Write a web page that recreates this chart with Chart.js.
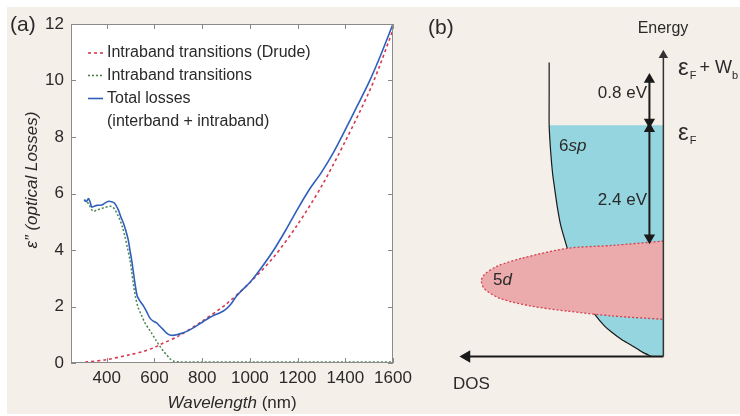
<!DOCTYPE html>
<html>
<head>
<meta charset="utf-8">
<script src="https://cdn.jsdelivr.net/npm/chart.js@4.4.0/dist/chart.umd.min.js"></script>
<style>
html, body { margin: 0; padding: 0; background: #fff; }
#wrap { position: relative; width: 740px; height: 416px; overflow: hidden; }
#bg { position: absolute; left: 7px; top: 7px; width: 733px; height: 407px; background: #f5efea; }
#lossChart { position: absolute; left: 0; top: 0; width: 430px; height: 416px; }
#bandChart { position: absolute; left: 420px; top: 0; width: 320px; height: 416px; }
</style>
</head>
<body>
<div id="wrap">
  <div id="bg"></div>
  <canvas id="lossChart" width="430" height="416"></canvas>
  <canvas id="bandChart" width="320" height="416"></canvas>
</div>
<script>
// ---- panel (a): imaginary permittivity vs wavelength ----
const wavelengthTicks = [400, 600, 800, 1000, 1200, 1400, 1600];
const epsTicks = [0, 2, 4, 6, 8, 10, 12];

const totalNm = [305, 315, 323, 330, 337, 347, 358, 379, 392, 405, 420, 432, 448, 460, 470, 480, 490, 498, 504, 511,
  518, 528, 540, 553, 567, 581, 595, 609, 623, 637, 651, 665, 680, 693, 710, 735, 770, 805, 847, 870,
  896, 920, 945, 975, 1000, 1042, 1100, 1150, 1200, 1250, 1300, 1350, 1400, 1450, 1500, 1546, 1600];
const totalEps = [5.76, 5.72, 5.82, 5.7, 5.52, 5.55, 5.58, 5.59, 5.66, 5.72, 5.71, 5.66, 5.43, 5.15, 4.95, 4.68, 4.36, 3.95, 3.66, 3.25,
  2.83, 2.36, 2.18, 2.03, 1.82, 1.59, 1.48, 1.42, 1.3, 1.18, 1.06, 0.99, 0.98, 1.0, 1.04, 1.12, 1.28, 1.47, 1.68, 1.76,
  1.88, 2.08, 2.38, 2.64, 2.85, 3.3, 4.0, 4.7, 5.45, 6.15, 6.75, 7.45, 8.26, 9.1, 9.95, 10.85, 12.0];

const drudeNm = [310, 400, 500, 553, 600, 623, 700, 800, 900, 1000, 1100, 1200, 1300, 1400, 1500, 1546, 1600];
const drudeEps = [0.03, 0.12, 0.3, 0.41, 0.55, 0.65, 0.95, 1.48, 2.08, 2.85, 3.75, 4.9, 6.25, 7.85, 9.6, 10.56, 11.8];

const interNm = [305, 315, 325, 335, 344, 358, 372, 390, 414, 425, 434, 445, 455, 466, 476, 486, 497, 504, 511, 520,
  532, 545, 560, 575, 588, 605, 623, 637, 651, 665, 679, 700, 750, 800, 1000, 1200, 1400, 1600];
const interEps = [5.78, 5.72, 5.62, 5.45, 5.37, 5.42, 5.45, 5.5, 5.55, 5.52, 5.43, 5.25, 5.07, 4.8, 4.48, 4.1, 3.66, 3.25, 2.83, 2.35,
  1.95, 1.7, 1.42, 1.22, 1.06, 0.82, 0.59, 0.42, 0.29, 0.15, 0.07, 0.04, 0.035, 0.035, 0.035, 0.035, 0.035, 0.035];

const legendLabels = ['Intraband transitions (Drude)', 'Intraband transitions', 'Total losses', '(interband + intraband)'];

// ---- panel (b): band schematic (DOS arb. units, energy relative to E_F) ----
const spDos = [11.96, 11.96, 11.96, 11.8, 11.6, 11.4, 11.1, 10.73, 10.06, 9.35, 8.73, 7.9, 7.06, 6.2, 5.4, 4.3, 3.4, 2.2, 1.23];
const spEnergy = [1.3, 0.6, 0, -0.55, -1.0, -1.29, -1.7, -2.09, -2.55, -3.0, -3.35, -3.7, -3.95, -4.15, -4.29, -4.45, -4.55, -4.7, -4.79];
const dBandDos = [0, 5.4, 10.06, 14.73, 17.4, 18.73, 19.06, 18.73, 17.06, 13.73, 10.06, 5.4, 0];
const dBandEnergy = [-2.4, -2.49, -2.55, -2.75, -2.92, -3.09, -3.22, -3.39, -3.59, -3.75, -3.85, -3.95, -4.02];
const bandBottom = -4.79;
const energyAxisTop = 1.45;
const dosAxisEnd = 20.6;
const arrowDos = 1.46;
const workGapE = [0.95, 0.07];   // 0.8 eV arrow
const fermiDepthE = [-0.07, -2.33]; // 2.4 eV arrow

const fontFamily = '"Liberation Sans", Arial, Helvetica, sans-serif';
const textColor = '#2a2a2a';

function pairs(xs, ys) {
  return xs.map((x, i) => ({ x: x, y: ys[i] }));
}

const lossDecor = {
  id: 'lossDecor',
  beforeDraw(chart) {
    const { ctx, chartArea: a } = chart;
    ctx.save();
    ctx.fillStyle = '#fff';
    ctx.fillRect(a.left, a.top, a.right - a.left, a.bottom - a.top);
    ctx.restore();
  },
  afterDraw(chart) {
    const { ctx, chartArea: a, scales } = chart;
    ctx.save();
    // frame
    ctx.strokeStyle = '#8a8a8a';
    ctx.lineWidth = 1;
    ctx.strokeRect(a.left + 0.5, a.top + 0.5, a.right - a.left - 1, a.bottom - a.top - 1);
    // inward ticks on all sides
    ctx.beginPath();
    wavelengthTicks.forEach(v => {
      const px = Math.round(scales.x.getPixelForValue(v)) + 0.5;
      ctx.moveTo(px, a.bottom); ctx.lineTo(px, a.bottom - 5);
      ctx.moveTo(px, a.top); ctx.lineTo(px, a.top + 5);
    });
    epsTicks.forEach(v => {
      const py = Math.round(scales.y.getPixelForValue(v)) + 0.5;
      ctx.moveTo(a.left, py); ctx.lineTo(a.left + 5, py);
      ctx.moveTo(a.right, py); ctx.lineTo(a.right - 5, py);
    });
    ctx.stroke();

    // legend inside the plot
    const order = [1, 2, 0];
    ctx.font = '16px ' + fontFamily;
    ctx.textBaseline = 'middle';
    ctx.fillStyle = textColor;
    const rows = [53, 75.5, 98.5, 121.5];
    order.forEach((di, r) => {
      const ds = chart.data.datasets[di];
      ctx.beginPath();
      ctx.strokeStyle = ds.borderColor;
      ctx.lineWidth = 1.6;
      ctx.setLineDash(ds.borderDash || []);
      ctx.moveTo(88, rows[r]); ctx.lineTo(103, rows[r]);
      ctx.stroke();
      ctx.setLineDash([]);
      ctx.fillText(legendLabels[r], 107, rows[r]);
    });
    ctx.fillText(legendLabels[3], 107, rows[3]);

    // panel label
    ctx.font = '21px ' + fontFamily;
    ctx.fillText('(a)', 10, 25);

    // x title: italic word + upright unit
    ctx.font = 'italic 17px ' + fontFamily;
    const w1 = ctx.measureText('Wavelength').width;
    ctx.font = '17px ' + fontFamily;
    const w2 = ctx.measureText(' (nm)').width;
    const x0 = 232 - (w1 + w2) / 2;
    ctx.textAlign = 'left';
    ctx.font = 'italic 17px ' + fontFamily;
    ctx.fillText('Wavelength', x0, 403);
    ctx.font = '17px ' + fontFamily;
    ctx.fillText(' (nm)', x0 + w1, 403);

    // y title
    ctx.translate(32, 180);
    ctx.rotate(-Math.PI / 2);
    ctx.textAlign = 'center';
    ctx.font = 'italic 17px ' + fontFamily;
    ctx.fillText('\u03b5\u201d (optical Losses)', 0, 0);
    ctx.restore();
  }
};

new Chart(document.getElementById('lossChart'), {
  type: 'line',
  data: {
    datasets: [
      { label: 'Total losses', data: pairs(totalNm, totalEps), borderColor: '#2f5fbd', borderWidth: 1.6, pointRadius: 0, tension: 0.3 },
      { label: 'Intraband transitions (Drude)', data: pairs(drudeNm, drudeEps), borderColor: '#d43a50', borderWidth: 1.6, borderDash: [3, 3], pointRadius: 0, tension: 0.3 },
      { label: 'Intraband transitions', data: pairs(interNm, interEps), borderColor: '#4a8550', borderWidth: 1.5, borderDash: [2, 2], pointRadius: 0, tension: 0.3 }
    ]
  },
  options: {
    responsive: false,
    animation: false,
    layout: { padding: { top: 24, right: 37, bottom: 0, left: 0 } },
    plugins: { legend: { display: false }, tooltip: { enabled: false } },
    scales: {
      x: {
        type: 'linear', min: 250, max: 1600,
        afterBuildTicks: s => { s.ticks = wavelengthTicks.map(v => ({ value: v })); },
        afterFit: s => { s.height = 53; },
        grid: { display: false, drawTicks: false },
        border: { display: false },
        ticks: { color: textColor, font: { family: fontFamily, size: 17 }, padding: 5, maxRotation: 0, autoSkip: false,
          callback: v => String(v) }
      },
      y: {
        min: 0, max: 12,
        afterBuildTicks: s => { s.ticks = epsTicks.map(v => ({ value: v })); },
        afterFit: s => { s.width = 71; },
        grid: { display: false, drawTicks: false },
        border: { display: false },
        ticks: { color: textColor, font: { family: fontFamily, size: 17 }, padding: 7, callback: v => String(v) }
      }
    }
  },
  plugins: [lossDecor]
});

// ---- panel (b) ----
function drawRuns(ctx, runs, x, y) {
  runs.forEach(r => {
    ctx.font = r[1];
    ctx.fillText(r[0], x, y + (r[2] || 0));
    x += ctx.measureText(r[0]).width + (r[3] || 0);
  });
}

const bandText = {
  id: 'bandText',
  afterDraw(chart) {
    const ctx = chart.ctx;
    const ox = -420;
    const f = s => s + 'px ' + fontFamily;
    const fi = s => 'italic ' + s + 'px ' + fontFamily;
    ctx.save();
    ctx.fillStyle = textColor;
    ctx.textBaseline = 'middle';
    ctx.textAlign = 'left';
    ctx.font = f(21);
    ctx.fillText('(b)', 428 + ox, 28);
    ctx.font = f(16);
    ctx.textAlign = 'center';
    ctx.fillText('Energy', 663 + ox, 29);
    ctx.textAlign = 'left';
    drawRuns(ctx, [['\u03b5', f(24), 0, 1], ['F', f(11), 8, 3], ['+ W', f(18)], ['b', f(11), 8]], 678 + ox, 68);
    drawRuns(ctx, [['\u03b5', f(24), 0, 1], ['F', f(11), 8]], 678 + ox, 133);
    ctx.textAlign = 'right';
    ctx.font = f(17);
    ctx.fillText('0.8 eV', 647 + ox, 93);
    ctx.fillText('2.4 eV', 647 + ox, 200);
    ctx.textAlign = 'left';
    drawRuns(ctx, [['6', f(17)], ['sp', fi(17)]], 559 + ox, 146);
    drawRuns(ctx, [['5', f(17)], ['d', fi(17)]], 493 + ox, 280);
    ctx.font = f(17);
    ctx.fillText('DOS', 453 + ox, 384);
    ctx.restore();
  }
};

const spFill = pairs(spDos.slice(2), spEnergy.slice(2)).concat([{ x: 0, y: bandBottom }, { x: 0, y: 0 }]);

new Chart(document.getElementById('bandChart'), {
  type: 'line',
  data: {
    datasets: [
      // axes and arrows (drawn on top)
      { data: [{ x: 0, y: bandBottom }, { x: 0, y: energyAxisTop }], borderColor: '#333', borderWidth: 1.5,
        pointStyle: 'triangle', pointRadius: [0, 4], pointRotation: [0, 0], backgroundColor: '#333', clip: false, order: 0 },
      { data: [{ x: 0, y: bandBottom }, { x: dosAxisEnd, y: bandBottom }], borderColor: '#1a1a1a', borderWidth: 2.2,
        pointStyle: 'triangle', pointRadius: [0, 5], pointRotation: [0, -90], backgroundColor: '#1a1a1a', clip: false, order: 0 },
      { data: [{ x: arrowDos, y: workGapE[0] }, { x: arrowDos, y: workGapE[1] }], borderColor: '#1a1a1a', borderWidth: 2,
        pointStyle: 'triangle', pointRadius: 4.5, pointRotation: [0, 180], backgroundColor: '#1a1a1a', clip: false, order: 0 },
      { data: [{ x: arrowDos, y: fermiDepthE[0] }, { x: arrowDos, y: fermiDepthE[1] }], borderColor: '#1a1a1a', borderWidth: 2,
        pointStyle: 'triangle', pointRadius: 4.5, pointRotation: [0, 180], backgroundColor: '#1a1a1a', clip: false, order: 0 },
      // 5d band (closed by the straight edge on the energy axis)
      { data: pairs(dBandDos, dBandEnergy), fill: 'shape', backgroundColor: '#ebaaab', borderColor: '#d4404f', borderWidth: 1.3,
        borderDash: [2, 2], pointRadius: 0, tension: 0.3, clip: false, order: 1 },
      // 6sp DOS curve
      { data: pairs(spDos, spEnergy), borderColor: '#1a1a1a', borderWidth: 1.2, pointRadius: 0, tension: 0.2, clip: false, order: 2 },
      // occupied 6sp states
      { data: spFill, fill: 'shape', backgroundColor: '#95d5df', borderWidth: 0, pointRadius: 0, tension: 0, clip: false, order: 3 }
    ]
  },
  options: {
    responsive: false,
    animation: false,
    layout: { padding: 0 },
    plugins: { legend: { display: false }, tooltip: { enabled: false } },
    scales: {
      x: { type: 'linear', reverse: true, min: -7.27, max: 24.73, display: false },
      y: { type: 'linear', min: -5.874, max: 2.446, display: false }
    }
  },
  plugins: [bandText]
});
</script>
</body>
</html>
